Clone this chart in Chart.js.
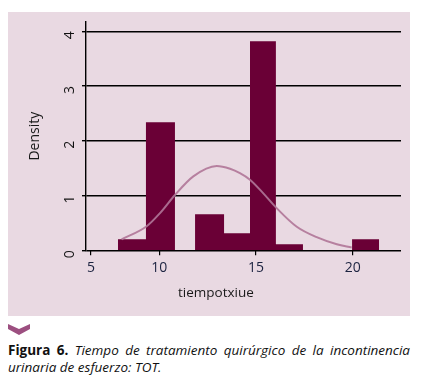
<!DOCTYPE html>
<html>
<head>
<meta charset="utf-8">
<script src="https://cdn.jsdelivr.net/npm/chart.js@4.4.1/dist/chart.umd.min.js"></script>
<style>
  html, body { margin: 0; padding: 0; background: #fff; }
  body { width: 422px; height: 386px; position: relative; overflow: hidden; font-family: "Open Sans", sans-serif; }
  #panel { position: absolute; left: 8px; top: 12px; width: 402px; height: 304px; background: #e9d9e2; }
  #xtitle { position: absolute; left: 170px; top: 271px; font-size: 13.5px; color: #1a1a1a; }
  #chevron { position: absolute; left: 8px; top: 323px; }
  #caption { position: absolute; left: 8px; top: 342px; width: 402px; font-size: 13.5px; line-height: 17px; color: #111; text-align: justify; }
  #caption b { font-weight: 700; }
  #caption i { font-style: italic; }
</style>
</head>
<body>
<div id="panel">
  <canvas id="histChart" width="402" height="304"></canvas>
  <div id="xtitle">tiempotxiue</div>
</div>
<svg id="chevron" width="24" height="14" viewBox="0 0 24 14">
  <polygon points="0,1 11,6 22,1 22,6 11,12 0,6" fill="#9c4f80"/>
</svg>
<div id="caption"><b>Figura 6.</b> <i>Tiempo de tratamiento quirúrgico de la incontinencia urinaria de esfuerzo: TOT.</i></div>

<script>
// 階級（左端・右端）と密度
var binLeft  = [7.86, 9.31, 11.85, 13.35, 14.69, 16.03, 19.97];
var binRight = [9.31, 10.81, 13.35, 14.69, 16.03, 17.43, 21.37];
var density  = [0.20, 2.34, 0.66, 0.31, 3.82, 0.11, 0.20];

// 正規曲線（画像から読み取った点）
var curveX = [8.05, 9.35, 10.04, 10.81, 11.76, 12.97, 13.66, 14.17, 14.69, 15.38, 16.07, 17.11, 18.14, 19.18, 19.95];
var curveY = [0.20, 0.44, 0.68, 1.01, 1.35, 1.54, 1.49, 1.41, 1.29, 1.04, 0.77, 0.43, 0.24, 0.11, 0.05];

// 目盛り
var xTickLabels = [5, 10, 15, 20];
var yTicks = [0, 1, 2, 3, 4];

// ヒストグラムを階段線の点に変換
var histPoints = [];
for (var i = 0; i < binLeft.length; i++) {
  histPoints.push({ x: binLeft[i], y: density[i] });
  if (i == binLeft.length - 1 || binRight[i] != binLeft[i + 1]) {
    histPoints.push({ x: binRight[i], y: 0 });
  }
}

var curvePoints = curveX.map(function (x, i) { return { x: x, y: curveY[i] }; });

var ctx = document.getElementById("histChart");
var myChart = new Chart(ctx, {
  type: 'line',
  data: {
    datasets: [
      {
        //正規曲線
        data: curvePoints,
        borderColor: "rgba(176, 118, 152, 0.9)",
        borderWidth: 2,
        pointRadius: 0,
        cubicInterpolationMode: 'monotone',
        fill: false,
        order: 0
      },
      {
        //ヒストグラム（水平→垂直の階段）
        data: histPoints,
        stepped: 'before',
        fill: 'origin',
        backgroundColor: "#6a0036",
        borderColor: "#6a0036",
        borderWidth: 0,
        pointRadius: 0,
        order: 1
      }
    ]
  },
  options: {
    responsive: false,
    animation: false,
    events: [],
    layout: { padding: { top: 10, right: 9, left: 0, bottom: 0 } },
    plugins: {
      legend: { display: false },
      tooltip: { enabled: false }
    },
    scales: {
      x: {
        type: 'linear',
        min: 6.21,
        max: 22.5,
        afterBuildTicks: function (scale) {
          // 元図では「5」の目盛りが軸の内側に描かれている
          scale.ticks = xTickLabels.map(function (v) { return { value: Math.max(v, 6.47) }; });
        },
        afterFit: function (scale) {
          scale.height = 65.7;
          scale.paddingLeft = 0;
          scale.paddingRight = 0;
        },
        ticks: {
          color: '#1c2340',
          font: { family: 'Open Sans', size: 14 },
          padding: 4,
          maxRotation: 0,
          callback: function (value, index) { return String(xTickLabels[index]); }
        },
        grid: {
          drawOnChartArea: false,
          drawTicks: true,
          tickLength: 5,
          color: '#000',
          lineWidth: 1.2
        },
        border: { display: false }
      },
      y: {
        min: 0,
        max: 4.17,
        afterBuildTicks: function (scale) {
          scale.ticks = yTicks.map(function (v) { return { value: v }; });
        },
        afterFit: function (scale) {
          scale.width = 78;
          scale.paddingTop = 0;
          scale.paddingBottom = 0;
        },
        ticks: {
          color: '#111',
          font: { family: 'Open Sans', size: 14 },
          minRotation: 90,
          maxRotation: 90,
          padding: 12
        },
        grid: {
          color: '#000',
          lineWidth: 1.4,
          tickLength: 4
        },
        border: { display: true, color: '#000', width: 1.4 },
        title: {
          display: true,
          text: 'Density',
          color: '#1a1a1a',
          font: { family: 'Open Sans', size: 14 },
          padding: { top: 19, bottom: 0 }
        }
      }
    }
  }
});
</script>
</body>
</html>
